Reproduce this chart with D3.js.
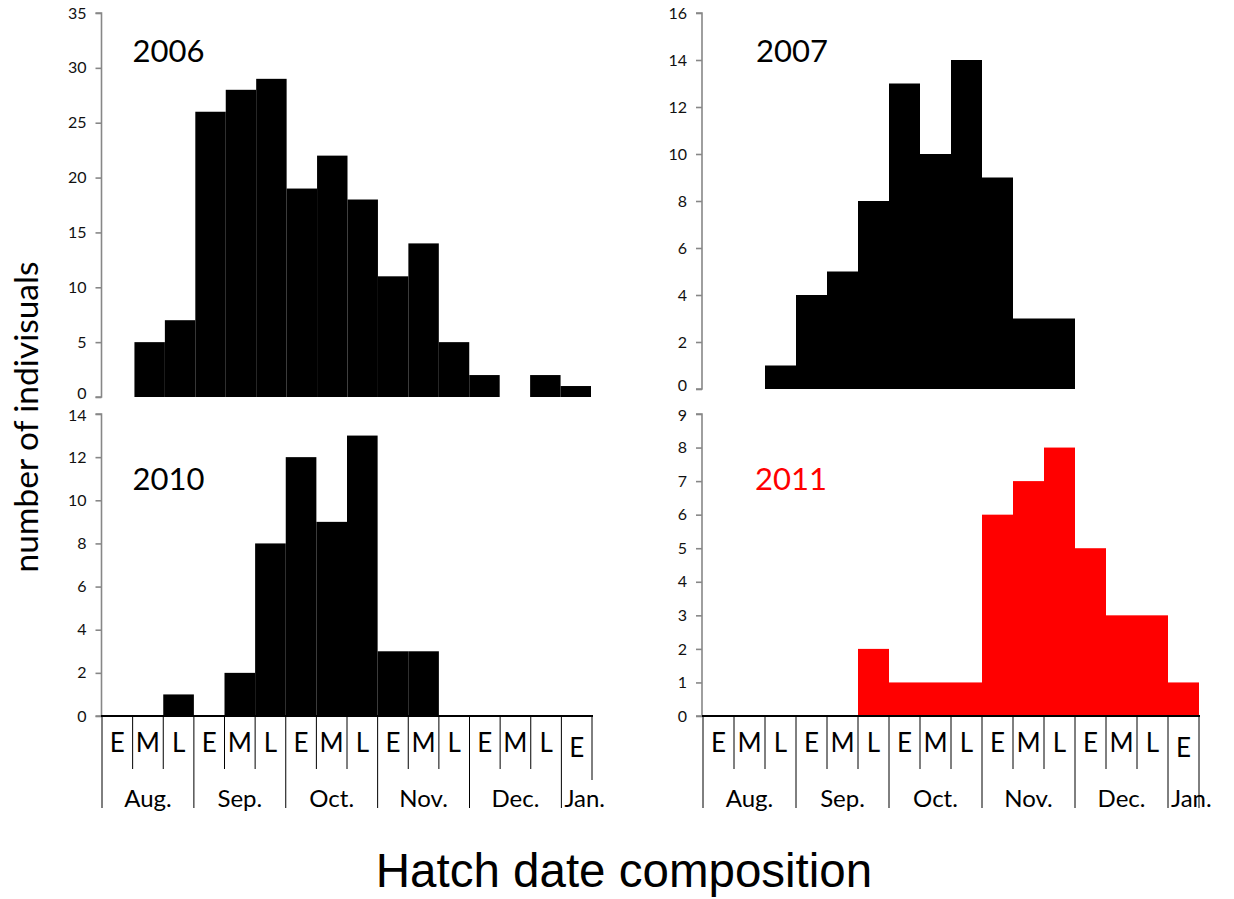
<!DOCTYPE html>
<html>
<head>
<meta charset="utf-8">
<script src="https://cdn.jsdelivr.net/npm/d3@7"></script>
<style>
  html, body { margin: 0; padding: 0; background: #fff; }
  svg { display: block; }
</style>
</head>
<body>
<svg id="chart" width="1234" height="899"></svg>
<script>
// ---- data ----
const periods = ["E","M","L","E","M","L","E","M","L","E","M","L","E","M","L","E"];
const binMonths = ["Aug.","Aug.","Aug.","Sep.","Sep.","Sep.","Oct.","Oct.","Oct.","Nov.","Nov.","Nov.","Dec.","Dec.","Dec.","Jan."];
const months = ["Aug.","Sep.","Oct.","Nov.","Dec.","Jan."];
const binKeys = periods.map((p, i) => binMonths[i] + " " + p);

const values2006 = [0,5,7,26,28,29,19,22,18,11,14,5,2,0,2,1];
const values2007 = [0,0,1,4,5,8,13,10,14,9,3,3,0,0,0,0];
const values2010 = [0,0,1,0,2,8,12,9,13,3,3,0,0,0,0,0];
const values2011 = [0,0,0,0,0,2,1,1,1,6,7,8,5,3,3,1];

const ticks2006 = [0,5,10,15,20,25,30,35];
const ticks2007 = [0,2,4,6,8,10,12,14,16];
const ticks2010 = [0,2,4,6,8,10,12,14];
const ticks2011 = [0,1,2,3,4,5,6,7,8,9];

const years = ["2006","2007","2010","2011"];
const yAxisTitle = "number of indivisuals";
const xAxisTitle = "Hatch date composition";

// ---- layout ----
const svg = d3.select("#chart");
const font = "Lato, 'Open Sans', sans-serif";

const panels = [
  { year: years[0], values: values2006, ticks: ticks2006, color: "#000000",
    axisX: 101.5, x0: 104, x1: 591, y0: 397, y1: 13, xAxis: false, labelDx: 31, labelDy: 49 },
  { year: years[1], values: values2007, ticks: ticks2007, color: "#000000",
    axisX: 702, x0: 703, x1: 1199, y0: 389, y1: 13, xAxis: false, labelDx: 54, labelDy: 49 },
  { year: years[2], values: values2010, ticks: ticks2010, color: "#000000",
    axisX: 101.5, x0: 102, x1: 592, y0: 716, y1: 414, xAxis: true, labelDx: 31, labelDy: 76 },
  { year: years[3], values: values2011, ticks: ticks2011, color: "#ff0000",
    axisX: 702, x0: 703, x1: 1199, y0: 716, y1: 414, xAxis: true, labelDx: 53, labelDy: 76 }
];

panels.forEach(p => {
  const g = svg.append("g");
  const x = d3.scaleBand().domain(binKeys).range([p.x0, p.x1]).padding(0);
  const maxV = d3.max(p.ticks);
  const y = d3.scaleLinear().domain([0, maxV]).range([p.y0, p.y1]);

  // bars
  g.selectAll("rect.bar")
    .data(p.values.map((v, i) => ({ key: binKeys[i], v })))
    .enter().append("rect")
    .attr("class", "bar")
    .attr("x", d => x(d.key))
    .attr("width", x.bandwidth())
    .attr("y", d => y(d.v))
    .attr("height", d => y(0) - y(d.v))
    .attr("fill", p.color);

  // y axis
  const ax = g.append("g")
    .attr("transform", `translate(${p.axisX},0)`)
    .call(d3.axisLeft(y).tickValues(p.ticks).tickSize(6).tickPadding(9).tickFormat(d3.format("d")));
  ax.select(".domain").attr("stroke", "#878787").attr("stroke-width", 1.6)
    .attr("d", `M-6,${y(maxV)}H0V${y(0)}H-6`);
  ax.selectAll(".tick line").attr("stroke", "#878787").attr("stroke-width", 1.6);
  ax.selectAll(".tick text").attr("font-family", font).attr("font-size", 16).attr("fill", "#111");
  // keep the stacked 0 / max labels of upper and lower panels apart
  if (!p.xAxis) {
    ax.selectAll(".tick text").filter(d => d === 0).attr("dy", "0.12em");
  } else {
    ax.selectAll(".tick text").filter(d => d === maxV).attr("dy", "0.42em");
  }

  // year label
  g.append("text")
    .attr("x", p.axisX + p.labelDx)
    .attr("y", p.y1 + p.labelDy)
    .attr("font-family", font)
    .attr("font-size", 31)
    .attr("fill", p.color)
    .text(p.year);

  if (p.xAxis) {
    const base = y(0);
    // E/M/L separators
    binKeys.forEach((k, i) => {
      const isMonthStart = i === 0 || binMonths[i] !== binMonths[i - 1];
      g.append("line")
        .attr("x1", x(k)).attr("x2", x(k))
        .attr("y1", base).attr("y2", isMonthStart ? 808 : 769)
        .attr("stroke", "#000").attr("stroke-width", 1);
    });
    // end line
    g.append("line")
      .attr("x1", p.x1).attr("x2", p.x1)
      .attr("y1", base).attr("y2", p.year === "2011" ? 808 : 780)
      .attr("stroke", "#000").attr("stroke-width", 1);
    // period labels
    g.selectAll("text.period")
      .data(binKeys)
      .enter().append("text")
      .attr("class", "period")
      .attr("x", d => x(d) + x.bandwidth() / 2)
      .attr("y", (d, i) => i === binKeys.length - 1 ? 757 : 752)
      .attr("text-anchor", "middle")
      .attr("font-family", font)
      .attr("font-size", 26)
      .attr("fill", "#000")
      .text((d, i) => periods[i]);
    // month labels
    months.forEach(m => {
      const keys = binKeys.filter((k, i) => binMonths[i] === m);
      const start = x(keys[0]);
      const end = x(keys[keys.length - 1]) + x.bandwidth();
      const isLast = m === months[months.length - 1];
      g.append("text")
        .attr("x", isLast ? start + 3 : (start + end) / 2)
        .attr("y", 807)
        .attr("text-anchor", isLast ? "start" : "middle")
        .attr("font-family", font)
        .attr("font-size", 24)
        .attr("fill", "#000")
        .text(m);
    });
    // x axis baseline
    g.append("line")
      .attr("x1", p.x0 - 1).attr("x2", p.x1 + 1)
      .attr("y1", base).attr("y2", base)
      .attr("stroke", "#000").attr("stroke-width", 2);
  }
});

// axis titles
svg.append("text")
  .attr("transform", "translate(38,417) rotate(-90)")
  .attr("text-anchor", "middle")
  .attr("font-family", font)
  .attr("font-size", 33.5)
  .attr("fill", "#000")
  .text(yAxisTitle);

svg.append("text")
  .attr("x", 624)
  .attr("y", 887)
  .attr("text-anchor", "middle")
  .attr("font-family", "'Liberation Sans', Arial, sans-serif")
  .attr("font-size", 47.5)
  .attr("fill", "#000")
  .text(xAxisTitle);
</script>
</body>
</html>
